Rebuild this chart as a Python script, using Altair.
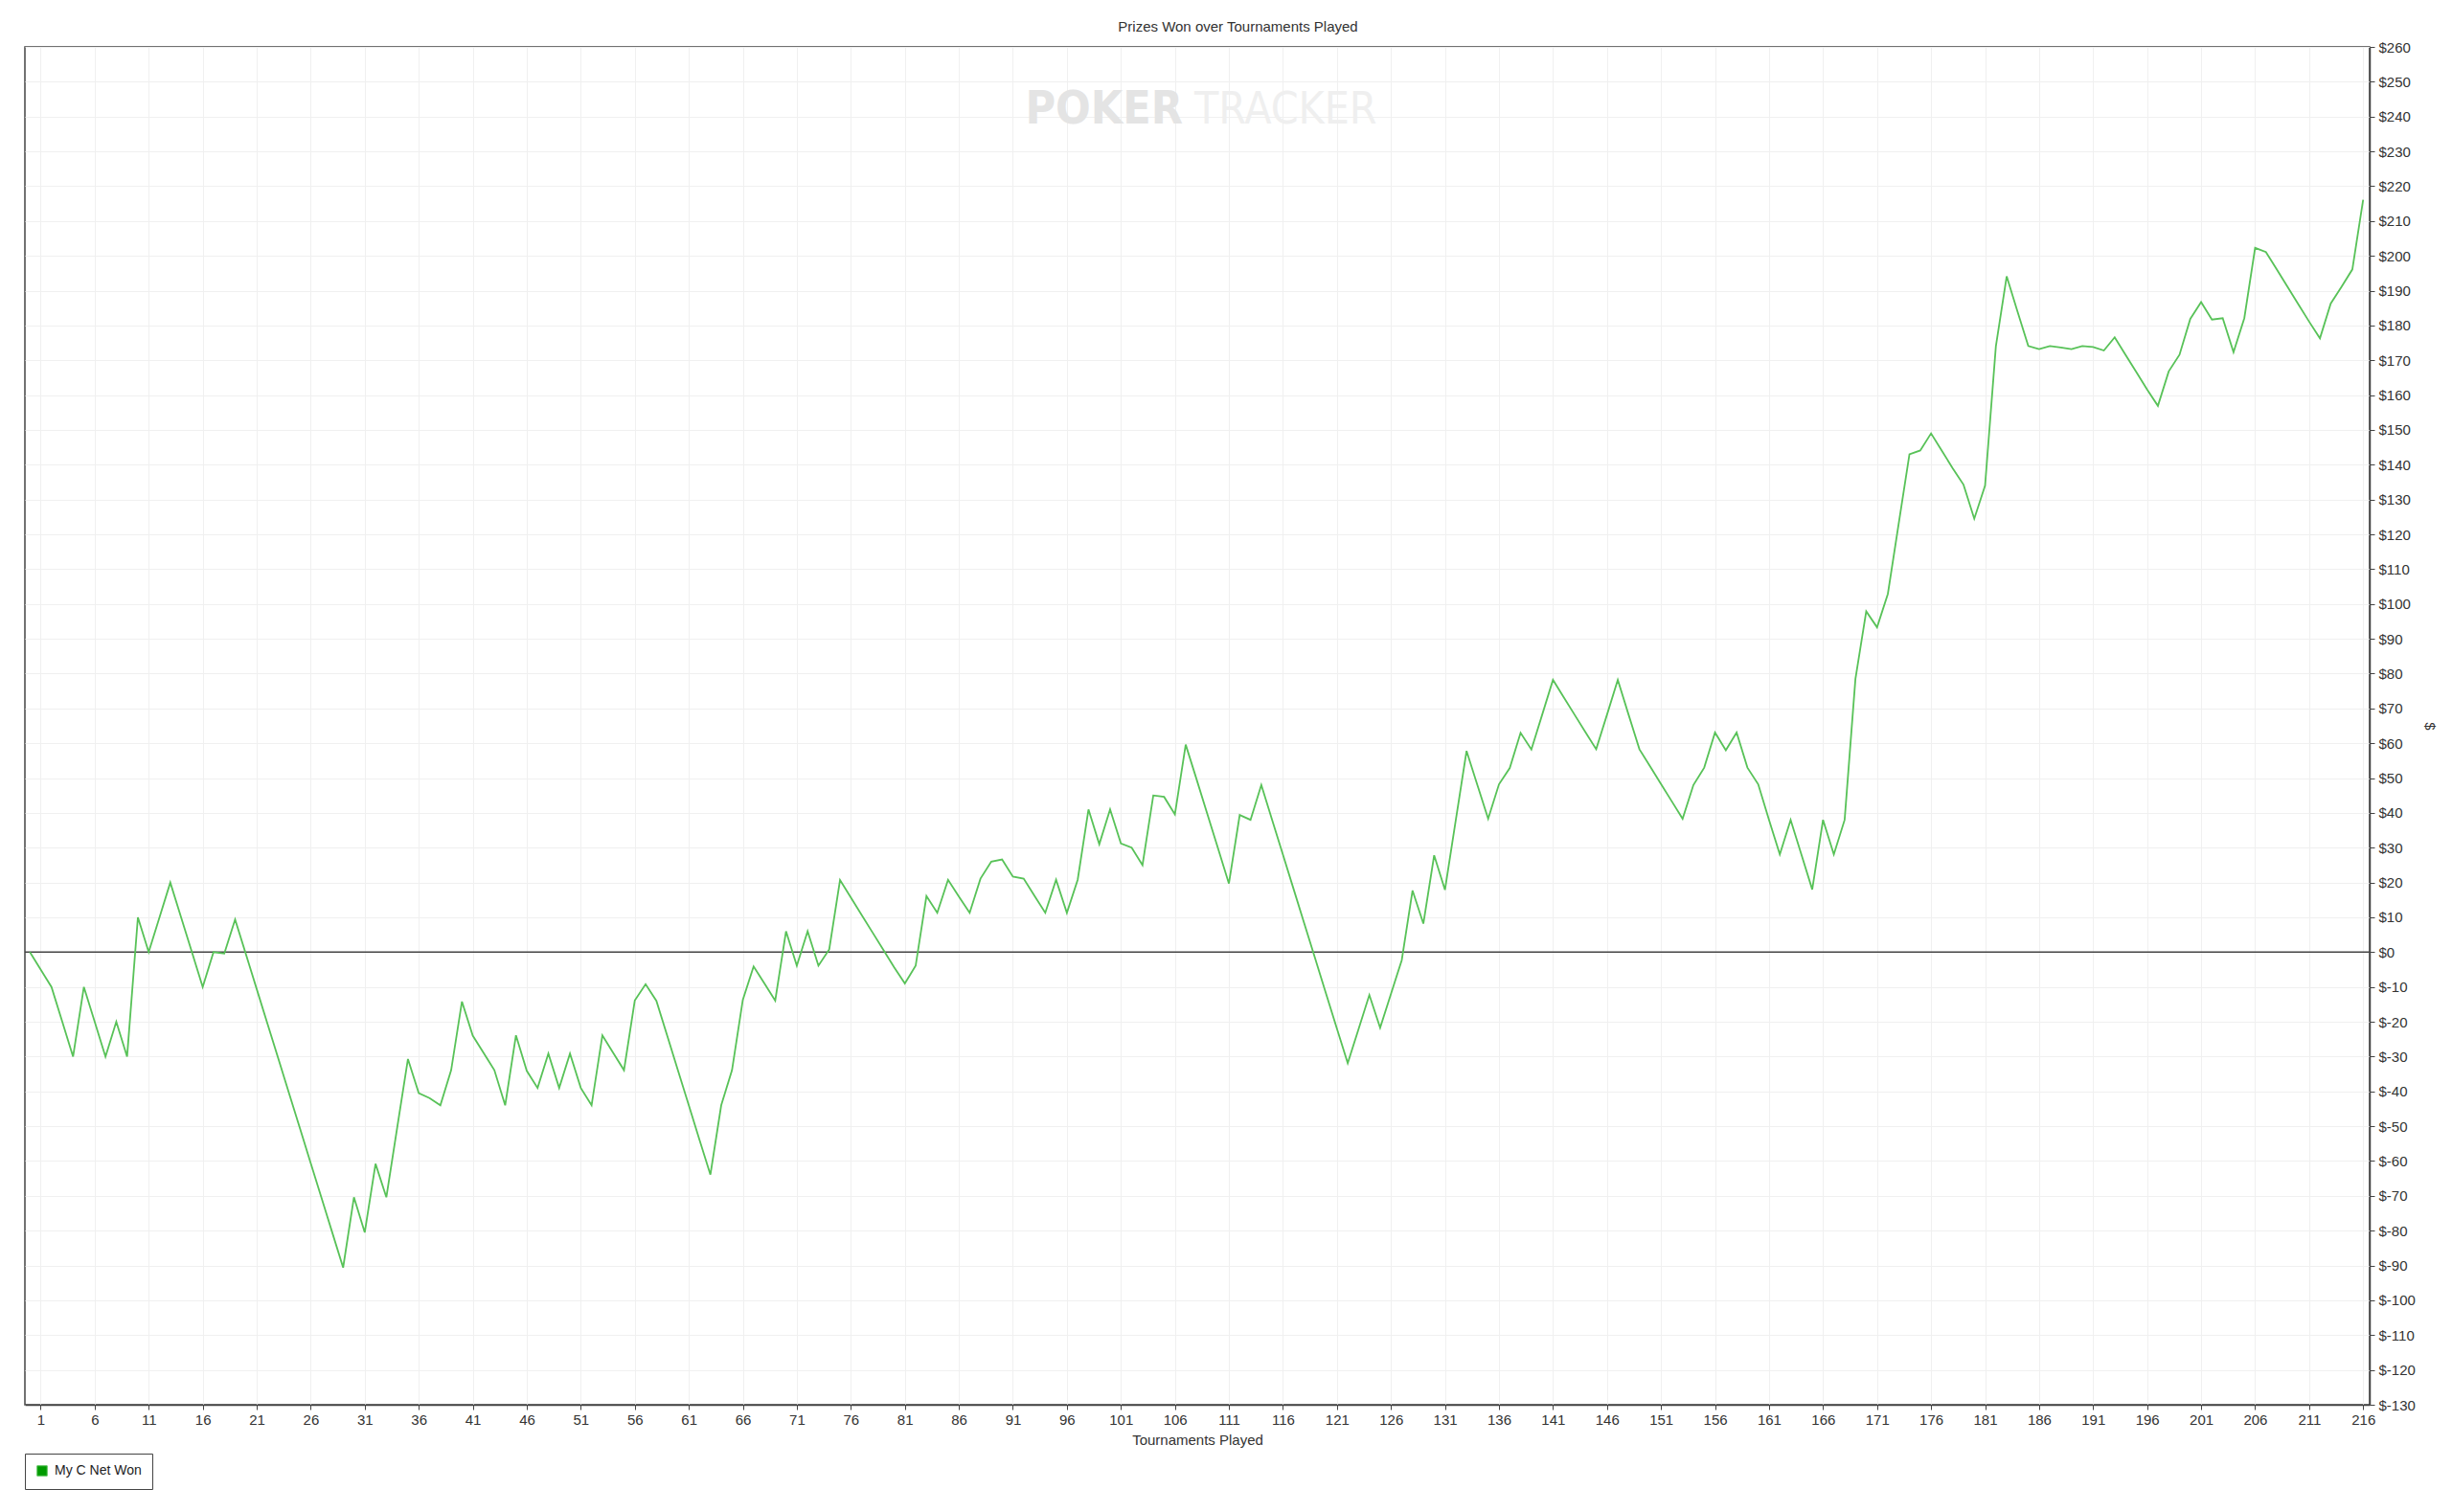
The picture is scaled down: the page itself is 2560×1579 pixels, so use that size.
import altair as alt
import pandas as pd

# ---- data ----
tournaments = list(range(0, 217))
net_won = [
    0, -5, -10, -20, -30, -10, -20, -30, -20, -30,
    10, 0, 10, 20, 10, 0, -10, 0, -0.4, 9.4,
    -0.6, -10.6, -20.6, -30.6, -40.6, -50.6, -60.6, -70.6, -80.6, -90.6,
    -70.4, -80.5, -60.8, -70.4, -50.5, -30.7, -40.5, -41.9, -44, -33.9,
    -14.2, -24, -28.9, -33.9, -44, -23.9, -34.1, -39, -29.1, -39,
    -29.1, -39, -44, -23.9, -28.9, -33.9, -13.9, -9.2, -14, -24,
    -34, -44, -54, -63.9, -44, -33.9, -13.7, -4.1, -9, -13.9,
    6, -3.9, 6, -3.9, 0.8, 20.7, 15.7, 10.7, 5.7, 0.7,
    -4.3, -9, -3.9, 16.1, 11.3, 20.8, 16, 11.3, 21.1, 26,
    26.6, 21.7, 21.1, 16.2, 11.3, 20.8, 11.3, 20.8, 41, 31,
    41, 31.2, 30, 25, 45, 44.6, 39.6, 59.6, 49.7, 39.7,
    29.7, 19.7, 39.4, 38, 48, 38, 28, 18, 8, -2,
    -12, -22, -31.9, -22.1, -12.3, -21.7, -12, -2.3, 17.7, 8.2,
    27.8, 17.9, 37.9, 57.8, 48, 38.3, 48.2, 52.9, 63, 58.2,
    68.2, 78.2, 73.2, 68.2, 63.2, 58.3, 68.2, 78.2, 68.2, 58.3,
    53.3, 48.3, 43.3, 38.3, 48, 53, 63.1, 58, 63.1, 53,
    48.2, 38, 28.1, 38, 28, 18, 38, 28.1, 38, 78.5,
    97.9, 93.3, 102.9, 123, 143, 144.1, 149, 144, 139, 134.3,
    124.5, 134, 174, 194.1, 184, 174.1, 173.2, 174.1, 173.7, 173.2,
    174.1, 173.8, 172.8, 176.6, 171.6, 166.6, 161.6, 156.9, 166.8, 171.6,
    181.9, 186.7, 181.7, 182.1, 172.3, 182.1, 202.3, 201.1, 196.1, 191.1,
    186.1, 181.1, 176.3, 186.3, 191.1, 196.1, 216.1,
]
series_name = "My C Net Won"
x_ticks = list(range(1, 217, 5))
y_ticks = list(range(-130, 261, 10))
chart_title = "Prizes Won over Tournaments Played"
x_title = "Tournaments Played"
y_title = "$"
watermark_a = "POKER"
watermark_b = "TRACKER"

FONT = "Liberation Sans"
WM_FONT = "DejaVu Sans Condensed, Liberation Sans, sans-serif"
LINE_GREEN = "#58c258"
DARK = "#444444"

df = pd.DataFrame({"n": tournaments, "v": net_won, "series": series_name})

x_scale = alt.Scale(domain=[-0.46, 216.6], nice=False, zero=False)
y_scale = alt.Scale(domain=[-130, 260], nice=False, zero=False)

x_axis = alt.Axis(values=x_ticks, title=x_title, tickSize=5, labelPadding=3,
                  titleY=41, titleBaseline="alphabetic", labelFlush=False,
                  labelOverlap=False)
y_axis = alt.Axis(values=y_ticks, orient="right", title=y_title,
                  labelExpr="'$' + datum.value", tickSize=5, labelPadding=4,
                  titleAngle=90, titleX=62, titleY=709, titleAlign="center",
                  titleBaseline="middle", labelOverlap=False, labelFlush=False)

legend = alt.Legend(
    title=None, orient="none", legendX=0, legendY=1469,
    symbolType="square", symbolSize=110, labelOffset=6, padding=11,
    strokeColor=DARK, fillColor="white", labelFont=FONT, labelFontSize=14,
    labelColor="#222222", symbolFillColor="#009a00", symbolStrokeWidth=1,
)

base = alt.Chart(df)

line = base.mark_line(strokeWidth=1.8, interpolate="linear").encode(
    x=alt.X("n:Q", scale=x_scale, axis=x_axis),
    y=alt.Y("v:Q", scale=y_scale, axis=y_axis),
    color=alt.Color("series:N",
                    scale=alt.Scale(domain=[series_name], range=[LINE_GREEN]),
                    legend=legend),
)

zero = alt.Chart(pd.DataFrame({"v": [0]})).mark_rule(
    color=DARK, strokeWidth=1.5).encode(
    y=alt.Y("v:Q", scale=y_scale, axis=y_axis))

wm1 = alt.Chart(pd.DataFrame({"t": [watermark_a]})).mark_text(
    font=WM_FONT, fontSize=48, fontWeight="bold",
    color="#e4e4e4", align="right", baseline="alphabetic").encode(
    text="t:N", x=alt.value(1209), y=alt.value(80))
wm2 = alt.Chart(pd.DataFrame({"t": [watermark_b]})).mark_text(
    font=WM_FONT, fontSize=46, fontWeight="normal",
    color="#efefef", align="left", baseline="alphabetic").encode(
    text="t:N", x=alt.value(1221), y=alt.value(80))

title = alt.Chart(pd.DataFrame({"t": [chart_title]})).mark_text(
    font=FONT, fontSize=15, color="#333333", align="center",
    baseline="alphabetic").encode(
    text="t:N", x=alt.value(1266.5), y=alt.value(-15.7))

chart = alt.layer(wm1, wm2, zero, line, title).properties(
    width=2448, height=1418,
    padding={"left": 18, "top": 41, "right": 70, "bottom": 95},
    autosize=alt.AutoSizeParams(type="none"),
    background="white",
).configure_view(
    stroke=DARK, strokeWidth=1.5
).configure_axis(
    labelFont=FONT, labelFontSize=15, labelColor="#333333",
    titleFont=FONT, titleFontSize=15, titleFontWeight="normal",
    titleColor="#333333", tickColor=DARK, domainColor=DARK, domainWidth=1.5,
    gridColor="#f0f0f0", gridWidth=1, labelOverlap=False,
)

chart.save("out.html", embed_options={"renderer": "svg", "actions": False})
